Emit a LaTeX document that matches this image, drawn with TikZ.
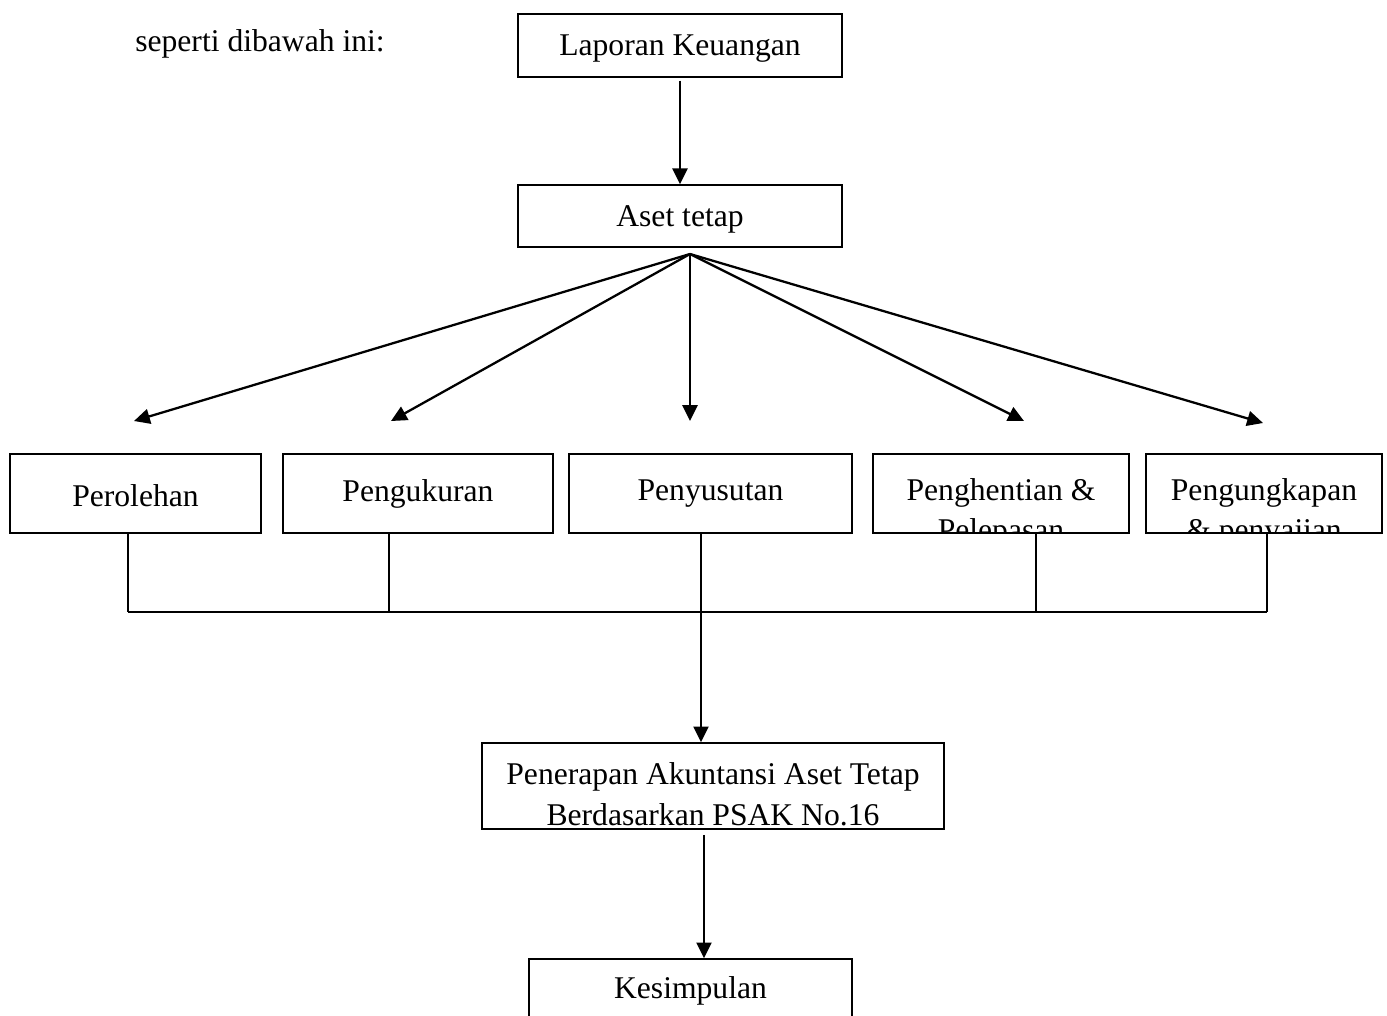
\documentclass[tikz,border=0pt]{standalone}
\usepackage{fontspec}
\setmainfont{Liberation Serif}
\usepackage{tkz-euclide}
\usetikzlibrary{arrows.meta}

\tikzset{
	box/.style={draw,line width=0.8pt,inner sep=0pt},
	arrow/.style={line width=1.3pt,-{Triangle[length=9pt,width=8.5pt]}},
	bus/.style={line width=1.3pt,-},
}

\begin{document}
\begin{tikzpicture}[x=0.02cm,y=-0.02cm,font=\fontsize{18}{23}\selectfont]
	\clip (0,0) rectangle (1387,1015);

	\node (intro) at (260,44) {seperti dibawah ini:};

	\node[box,minimum width=6.48cm,minimum height=1.26cm] (lapkeu) at (680,45.5) {\raisebox{-2pt}[\height][\depth]{Laporan Keuangan}};
	\node[box,minimum width=6.48cm,minimum height=1.24cm] (aset) at (680,216) {\raisebox{-2pt}[\height][\depth]{Aset tetap}};

	\node[box,minimum width=5.02cm,minimum height=1.58cm] (perolehan) at (135.5,493.5) {\raisebox{-1.5pt}[\height][\depth]{Perolehan}};
	\node[box,minimum width=5.4cm,minimum height=1.58cm] (pengukuran) at (418,493.5) {Pengukuran};
	\node[box,minimum width=5.66cm,minimum height=1.58cm] (penyusutan) at (710.5,493.5) {Penyusutan};
	\node[box,minimum width=5.12cm,minimum height=1.58cm,
		path picture={\node[align=center] at ([yshift=-11pt]path picture bounding box.center) {Penghentian \&\\Pelepasan};}] (penghentian) at (1001,493.5) {};
	\node[box,minimum width=4.72cm,minimum height=1.58cm,
		path picture={\node[align=center] at ([yshift=-11pt]path picture bounding box.center) {Pengungkapan\\\& penyajian};}] (pengungkapan) at (1264,493.5) {};

	\node[box,minimum width=9.24cm,minimum height=1.72cm,
		path picture={\node[align=center] at ([yshift=-4.6pt]path picture bounding box.center) {Penerapan Akuntansi Aset Tetap\\Berdasarkan PSAK No.16};}] (penerapan) at (713,786) {};
	\node[box,minimum width=6.46cm,minimum height=1.26cm] (kesimpulan) at (690.5,990.5) {Kesimpulan};

	% titik bantu
	\tkzDefPoint(690,254){fan}
	\tkzDefPoint(134,421){f1}
	\tkzDefPoint(391,421){f2}
	\tkzDefPoint(690,421){f3}
	\tkzDefPoint(1024,421){f4}
	\tkzDefPoint(1263,423){f5}

	\tkzDefPoint(128,612){b1}
	\tkzDefPoint(389,612){b2}
	\tkzDefPoint(701,612){b3}
	\tkzDefPoint(1036,612){b4}
	\tkzDefPoint(1267,612){b5}
	\tkzDefPoint(704,0){k1}

	\path[arrow,shorten <=1.7pt] (lapkeu) edge (aset);

	\path[arrow] (fan) edge (f1);
	\path[arrow] (fan) edge (f2);
	\path[arrow] (fan) edge (f3);
	\path[arrow] (fan) edge (f4);
	\path[arrow] (fan) edge (f5);

	\path[bus] (perolehan.south -| b1) edge (b1);
	\path[bus] (pengukuran.south -| b2) edge (b2);
	\path[bus] (penghentian.south -| b4) edge (b4);
	\path[bus] (pengungkapan.south -| b5) edge (b5);
	\path[bus] (b1) edge (b5);
	\path[arrow] (penyusutan.south -| b3) edge (penerapan.north -| b3);

	\path[arrow,shorten <=3pt] (penerapan.south -| k1) edge (kesimpulan.north -| k1);
\end{tikzpicture}
\end{document}
